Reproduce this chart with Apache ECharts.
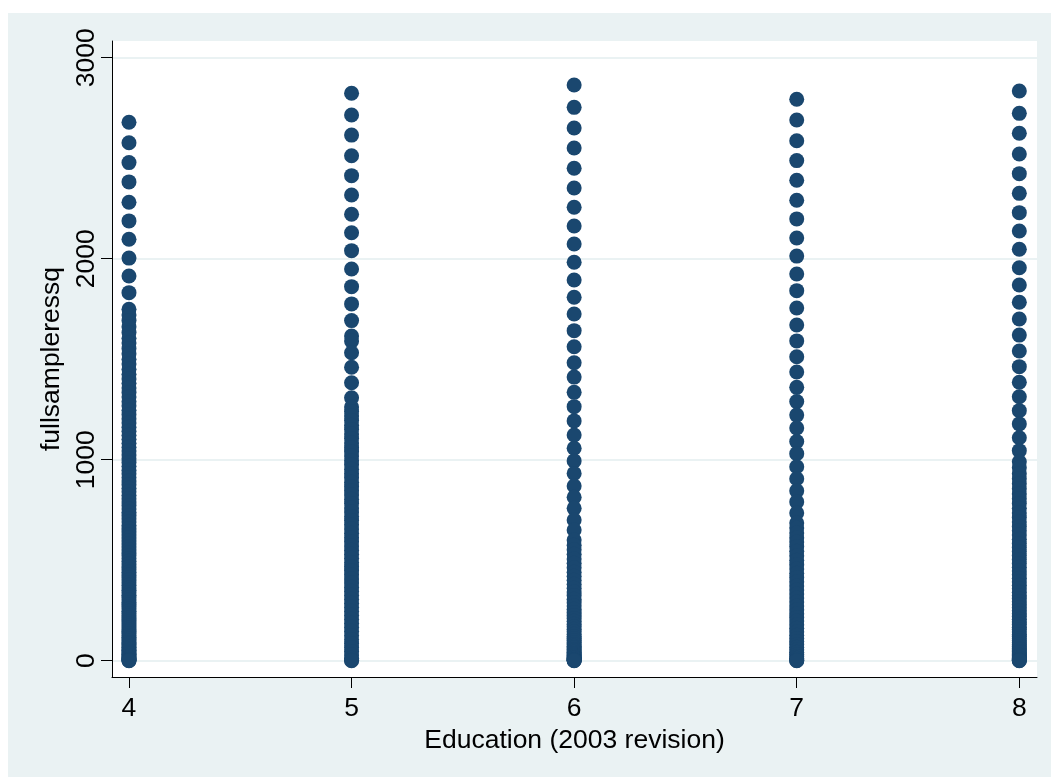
<!DOCTYPE html>
<html>
<head>
<meta charset="utf-8">
<script src="https://cdn.jsdelivr.net/npm/echarts@6/dist/echarts.min.js"></script>
<style>
  html, body { margin: 0; padding: 0; background: #ffffff; }
  #bg { position: absolute; left: 8px; top: 13px; width: 1043px; height: 764px; background: #EAF2F3; }
  #chart { position: absolute; left: 0; top: 0; width: 1051px; height: 777px; }
</style>
</head>
<body>
<div id="bg"></div>
<div id="chart"></div>
<script>
// Education categories (x values)
const educationLevels = [4, 5, 6, 7, 8];
// fullsampleressq values read for each education level
const resEdu4 = [2679, 2577, 2478, 2382, 2281, 2188, 2097, 2003, 1914, 1831, 1748,
  1720, 1692, 1661, 1633, 1604, 1580, 1553, 1527, 1500, 1476, 1450, 1425, 1402, 1380, 1357, 1334,
  1312, 1290, 1268, 1246, 1225, 1204, 1183, 1162, 1142, 1122, 1102, 1082, 1062, 1043, 1024, 1005,
  986, 967, 948, 930, 912, 894, 876, 858, 840, 823, 806, 789, 772, 755, 738, 722, 706, 690, 674,
  658, 642, 627, 612, 597, 582, 567, 552, 537, 523, 509, 495, 481, 467, 453, 440, 427, 414, 401,
  388, 375, 362, 350, 338, 326, 314, 302, 290, 279, 268, 257, 246, 235, 224, 213, 203, 193, 183,
  173, 163, 153, 144, 135, 126, 117, 108, 99, 91, 83, 75, 67, 59, 52, 45, 38, 32, 26, 20, 15, 10,
  6, 3, 1, 0];
const resEdu5 = [2823, 2715, 2615, 2512, 2413, 2317, 2221, 2129, 2040, 1949, 1861, 1775, 1692,
  1615, 1590, 1532, 1460, 1383, 1308,
  1262, 1240, 1218, 1195, 1172, 1150, 1128, 1105, 1083, 1060, 1040, 1018, 995, 975, 952, 930, 910,
  888, 866, 845, 825, 803, 782, 760, 740, 718, 697, 676, 655, 634, 612, 592, 571, 550, 530, 510,
  489, 468, 448, 428, 407, 387, 366, 346, 326, 306, 286, 266, 246, 226, 206, 186, 166, 146, 126,
  106, 86, 66, 46, 28, 12, 2, 0];
const resEdu6 = [2864, 2753, 2650, 2551, 2450, 2352, 2256, 2163, 2073, 1982, 1894, 1808, 1725,
  1642, 1562, 1482, 1411, 1335, 1264, 1193, 1123, 1057, 994, 932, 869, 813, 758, 700, 650, 600,
  575, 552, 530, 506, 485, 462, 440, 420, 400, 380, 361, 342, 324, 306, 289, 272, 256, 240, 225,
  210, 196, 182, 169, 156, 144, 132, 121, 110, 100, 90, 81, 72, 64, 56, 49, 42, 36, 30, 25, 20,
  16, 12, 9, 6, 4, 2, 1, 0];
const resEdu7 = [2793, 2690, 2587, 2488, 2390, 2291, 2198, 2103, 2013, 1924, 1841, 1755, 1670,
  1591, 1512, 1436, 1360, 1289, 1222, 1158, 1090, 1030, 965, 905, 845, 790, 735, 685,
  660, 635, 612, 590, 568, 545, 522, 500, 478, 456, 435, 414, 393, 372, 352, 332, 312, 292, 272,
  253, 234, 215, 197, 179, 161, 144, 127, 111, 96, 81, 67, 54, 42, 31, 21, 12, 5, 1, 0];
const resEdu8 = [2834, 2723, 2624, 2521, 2423, 2325, 2229, 2138, 2047, 1955, 1869, 1783, 1700,
  1620, 1541, 1463, 1385, 1313, 1244, 1178, 1109, 1045, 990, 960, 930,
  905, 880, 855, 830, 806, 782, 758, 735, 712, 690, 668, 646, 625, 604, 583, 563, 543, 523, 503,
  484, 465, 446, 428, 410, 392, 375, 358, 341, 325, 309, 293, 278, 263, 248, 234, 220, 206, 193,
  180, 167, 155, 143, 131, 120, 109, 99, 89, 79, 70, 61, 53, 45, 38, 31, 25, 19, 14, 10, 6, 3, 1, 0];
// Tick labels
const xTicks = [4, 5, 6, 7, 8];
const yTicks = [0, 1000, 2000, 3000];

const columns = [resEdu4, resEdu5, resEdu6, resEdu7, resEdu8];
const points = [];
educationLevels.forEach((edu, i) => {
  columns[i].forEach(v => points.push([edu, v]));
});

const chart = echarts.init(document.getElementById('chart'), null, { renderer: 'canvas' });
const font = 'Liberation Sans, Arial, Helvetica, sans-serif';
const fs = 26.5;
chart.setOption({
  backgroundColor: 'transparent',
  animation: false,
  grid: {
    left: 112, top: 41, width: 925, height: 636,
    show: true, backgroundColor: '#ffffff', borderWidth: 0,
    containLabel: false
  },
  xAxis: {
    type: 'value',
    min: 3.9237, max: 8.0795,
    name: 'Education (2003 revision)',
    nameLocation: 'middle',
    nameGap: 45,
    nameTextStyle: { fontFamily: font, fontSize: fs, color: '#000' },
    axisLine: { show: true, onZero: false, lineStyle: { color: '#000', width: 1 } },
    axisTick: { show: true, length: 11, inside: false, customValues: xTicks, lineStyle: { color: '#000', width: 1 } },
    axisLabel: { customValues: xTicks, fontFamily: font, fontSize: fs, color: '#000', margin: 18,
      formatter: v => String(v) },
    splitLine: { show: false }
  },
  yAxis: {
    type: 'value',
    min: -81, max: 3083,
    name: 'fullsampleressq',
    nameLocation: 'middle',
    nameGap: 46,
    nameRotate: 90,
    nameTextStyle: { fontFamily: font, fontSize: fs, color: '#000' },
    axisLine: { show: true, onZero: false, lineStyle: { color: '#000', width: 1 } },
    axisTick: { show: true, length: 11, inside: false, customValues: yTicks, lineStyle: { color: '#000', width: 1 } },
    axisLabel: { customValues: yTicks, rotate: 90, fontFamily: font, fontSize: fs, color: '#000', margin: 12,
      formatter: v => String(v) },
    splitLine: { show: true, lineStyle: { color: '#EAF2F3', width: 2 } }
  },
  series: [{
    type: 'scatter',
    data: points,
    symbol: 'circle',
    symbolSize: 15,
    itemStyle: { color: '#1A476F', opacity: 1 },
    z: 3
  }]
});
</script>
</body>
</html>
